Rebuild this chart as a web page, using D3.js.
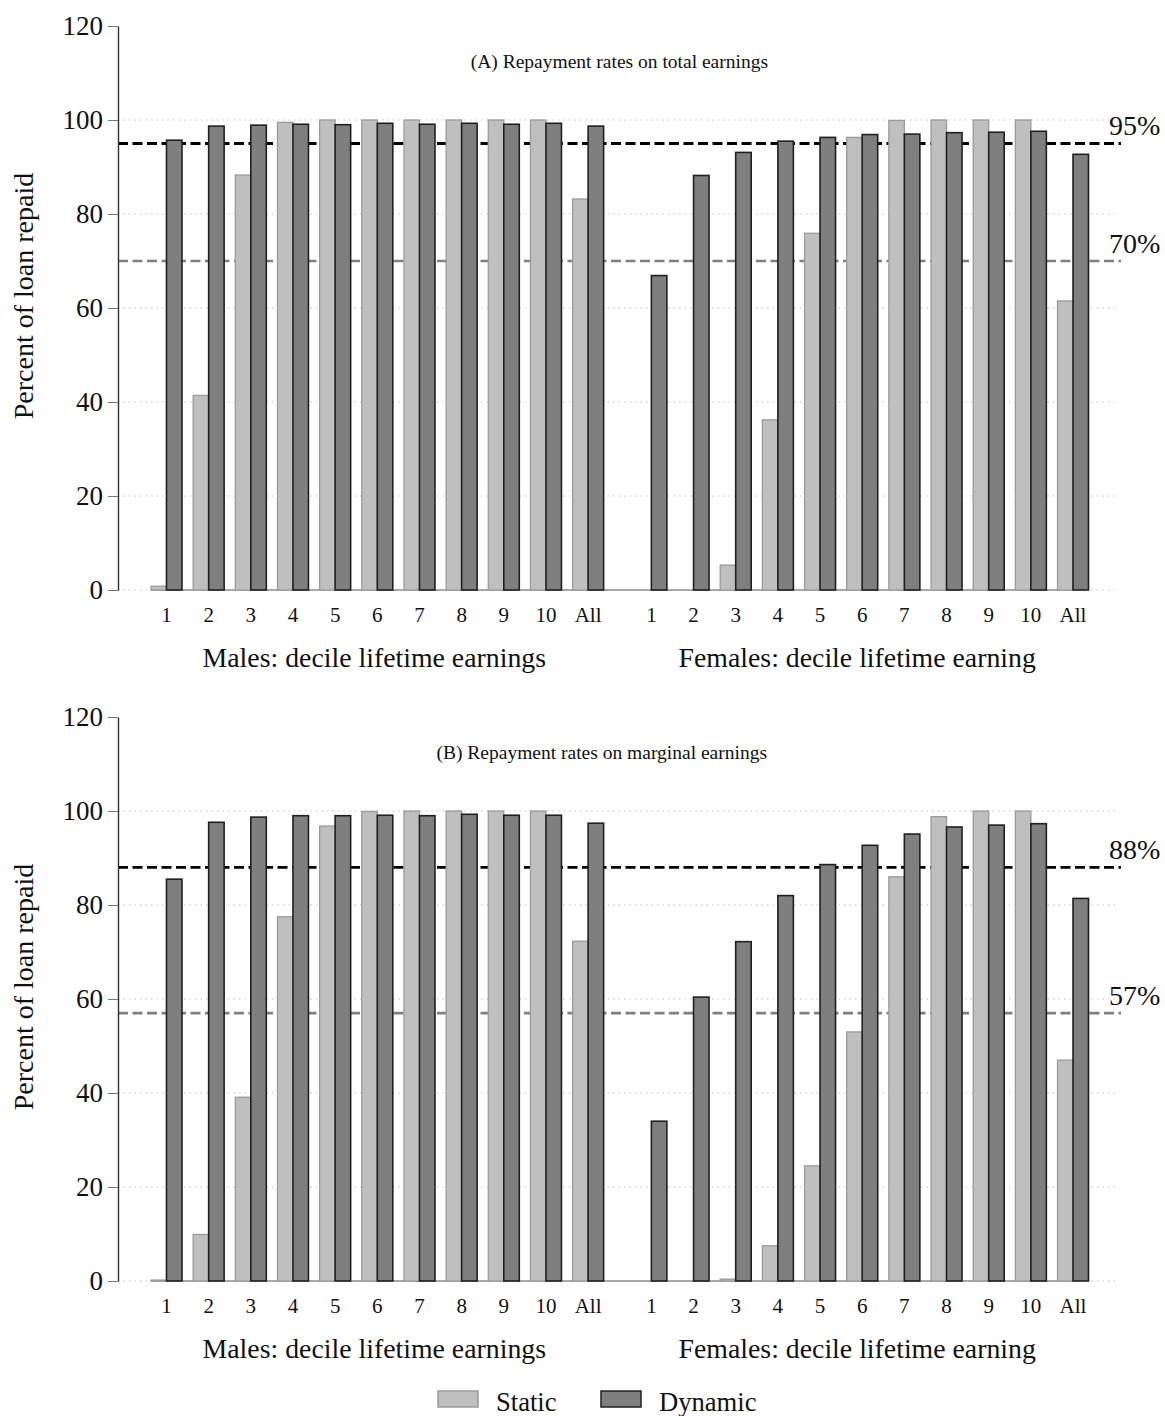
<!DOCTYPE html>
<html>
<head>
<meta charset="utf-8">
<script src="https://cdn.jsdelivr.net/npm/d3@7"></script>
<style>
  body { margin: 0; background: #fff; }
  svg { display: block; }
  text { font-family: "Liberation Serif", "Times New Roman", Times, serif; fill: #111; }
</style>
</head>
<body>
<svg id="chart" width="1165" height="1416"></svg>
<script>
// ---- data -------------------------------------------------------------
const deciles = ["1", "2", "3", "4", "5", "6", "7", "8", "9", "10", "All"];
const groups = ["Males", "Females"];
const groupTitles = ["Males: decile lifetime earnings", "Females: decile lifetime earning"];
const seriesNames = ["Static", "Dynamic"];
const yTicks = [0, 20, 40, 60, 80, 100, 120];
const gridTicks = [0, 20, 40, 60, 80, 100];

// (A) total earnings
const totalMaleStatic    = [0.8, 41.4, 88.3, 99.5, 100, 100, 100, 100, 100, 100, 83.2];
const totalMaleDynamic   = [95.7, 98.7, 98.9, 99.1, 99.0, 99.3, 99.1, 99.3, 99.1, 99.3, 98.7];
const totalFemaleStatic  = [0, 0, 5.3, 36.2, 75.9, 96.3, 99.9, 100, 100, 100, 61.5];
const totalFemaleDynamic = [66.9, 88.2, 93.1, 95.5, 96.3, 96.9, 97.0, 97.3, 97.4, 97.6, 92.7];
const totalThresholds = [95, 70];

// (B) marginal earnings
const marginalMaleStatic    = [0.2, 9.9, 39.1, 77.5, 96.8, 99.9, 100, 100, 100, 100, 72.3];
const marginalMaleDynamic   = [85.5, 97.6, 98.7, 99.0, 99.0, 99.1, 99.0, 99.3, 99.1, 99.1, 97.4];
const marginalFemaleStatic  = [0, 0, 0.4, 7.5, 24.5, 53.0, 86.0, 98.8, 100, 100, 47.0];
const marginalFemaleDynamic = [34.0, 60.4, 72.2, 82.0, 88.6, 92.7, 95.1, 96.6, 97.0, 97.3, 81.4];
const marginalThresholds = [88, 57];

const panelTitles = ["(A) Repayment rates on total earnings", "(B) Repayment rates on marginal earnings"];

// ---- assemble panel tables ---------------------------------------------
function buildRows(ms, md, fs, fd) {
  const rows = [];
  const src = { Males: [ms, md], Females: [fs, fd] };
  groups.forEach(g => deciles.forEach((d, i) => seriesNames.forEach((s, k) => {
    rows.push({ group: g, decile: d, series: s, value: src[g][k][i] });
  })));
  return rows;
}

const panels = [
  { title: panelTitles[0], rows: buildRows(totalMaleStatic, totalMaleDynamic, totalFemaleStatic, totalFemaleDynamic),
    thresholds: totalThresholds, y0: 590, titleAnchorX: 768 },
  { title: panelTitles[1], rows: buildRows(marginalMaleStatic, marginalMaleDynamic, marginalFemaleStatic, marginalFemaleDynamic),
    thresholds: marginalThresholds, y0: 1281, titleAnchorX: 767 }
];

// ---- layout -----------------------------------------------------------
const svg = d3.select("#chart");
const axisX = 118;
const plotRight = 1121;
const plotHeight = 564;

const xGroup = d3.scaleBand().domain(groups).range([145.4, 1094.1]).paddingInner(0.0435).paddingOuter(0);
const xDecile = d3.scaleBand().domain(deciles).range([0, xGroup.bandwidth()]).paddingInner(0.265).paddingOuter(0.1325);
const xSeries = d3.scaleBand().domain(seriesNames).range([0, xDecile.bandwidth()]);
const fill = d3.scaleOrdinal().domain(seriesNames).range(["#bfbfbf", "#7f7f7f"]);
const outline = d3.scaleOrdinal().domain(seriesNames).range(["#9b9b9b", "#202020"]);
const refColor = ["#000000", "#7f7f7f"];

panels.forEach(p => {
  const y = d3.scaleLinear().domain([0, 120]).range([p.y0, p.y0 - plotHeight]);
  const g = svg.append("g");

  // dotted gridlines
  g.selectAll("line.grid").data(gridTicks).join("line")
    .attr("x1", axisX).attr("x2", 1116)
    .attr("y1", d => y(d)).attr("y2", d => y(d))
    .attr("stroke", "#c4c4c4").attr("stroke-width", 1)
    .attr("stroke-dasharray", "1.5,4");

  // reference lines
  g.selectAll("line.ref").data(p.thresholds).join("line")
    .attr("x1", axisX).attr("x2", plotRight)
    .attr("y1", d => y(d)).attr("y2", d => y(d))
    .attr("stroke", (d, i) => refColor[i])
    .attr("stroke-width", (d, i) => i === 0 ? 2.9 : 2.7)
    .attr("stroke-dasharray", "10,4.5");

  g.selectAll("text.ref").data(p.thresholds).join("text")
    .attr("x", 1109).attr("y", d => y(d) - 8.5)
    .attr("font-size", 28).text(d => d + "%");

  // baseline under the bars
  const bx0 = xGroup(groups[0]) + xDecile(deciles[0]);
  const bx1 = xGroup(groups[1]) + xDecile(deciles[deciles.length - 1]) + xSeries("Static") + xSeries.bandwidth();
  g.append("line")
    .attr("x1", bx0).attr("x2", bx1).attr("y1", y(0)).attr("y2", y(0))
    .attr("stroke", "#a8a8a8").attr("stroke-width", 2);

  // bars
  g.selectAll("rect.bar").data(p.rows).join("rect")
    .attr("x", d => xGroup(d.group) + xDecile(d.decile) + xSeries(d.series))
    .attr("y", d => y(d.value))
    .attr("width", xSeries.bandwidth())
    .attr("height", d => y(0) - y(d.value))
    .attr("fill", d => fill(d.series))
    .attr("stroke", d => outline(d.series))
    .attr("stroke-width", d => d.series === "Static" ? 1.3 : 1.6);

  // y axis
  const yAxis = d3.axisLeft(y).tickValues(yTicks).tickSize(10).tickSizeOuter(0).tickPadding(5);
  const ax = g.append("g").attr("transform", `translate(${axisX},0)`).call(yAxis);
  ax.select(".domain").attr("stroke", "#333").attr("stroke-width", 1.4);
  ax.selectAll(".tick line").attr("stroke", "#777").attr("stroke-width", 1);
  ax.selectAll(".tick text").attr("font-size", 27).attr("font-family", null).attr("fill", "#111");

  // category labels and group titles
  groups.forEach((grp, gi) => {
    g.selectAll(null).data(deciles).join("text")
      .attr("x", d => xGroup(grp) + xDecile(d) + xDecile.bandwidth() / 2)
      .attr("y", p.y0 + 32)
      .attr("text-anchor", "middle").attr("font-size", 21)
      .text(d => d);
    g.append("text")
      .attr("x", xGroup(grp) + xGroup.bandwidth() / 2 + (gi === 0 ? -3 : -5))
      .attr("y", p.y0 + 77)
      .attr("text-anchor", "middle").attr("font-size", 27.8)
      .text(groupTitles[gi]);
  });

  // panel subtitle
  g.append("text")
    .attr("x", p.titleAnchorX).attr("y", y(120) + 42)
    .attr("text-anchor", "end").attr("font-size", 19.5)
    .text(p.title);

  // y axis title
  g.append("text")
    .attr("transform", `translate(33,${p.y0 - 294}) rotate(-90)`)
    .attr("text-anchor", "middle").attr("font-size", 28)
    .text("Percent of loan repaid");
});

// ---- legend -----------------------------------------------------------
const legendX = d3.scaleOrdinal().domain(seriesNames).range([438, 601]);
const legend = svg.append("g");
legend.selectAll("rect").data(seriesNames).join("rect")
  .attr("x", d => legendX(d)).attr("y", 1391)
  .attr("width", 40).attr("height", 16)
  .attr("fill", d => fill(d)).attr("stroke", d => outline(d)).attr("stroke-width", 1.5);
legend.selectAll("text").data(seriesNames).join("text")
  .attr("x", d => legendX(d) + 58).attr("y", 1411)
  .attr("font-size", 26.6).text(d => d);
</script>
</body>
</html>
